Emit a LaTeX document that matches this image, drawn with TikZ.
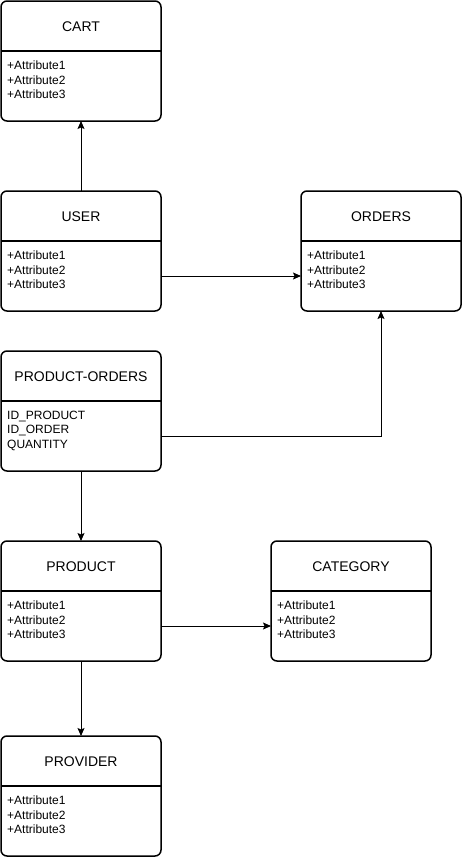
\documentclass[tikz,border=0pt]{standalone}
\usepackage{fontspec}
\setmainfont{Liberation Sans}
\usetikzlibrary{arrows.meta}

\tikzset{
  entity/.style={draw, line width=1.5pt, rounded corners=6pt, minimum width=160pt, minimum height=120pt, inner sep=0pt, outer sep=0pt},
  entityname/.style={font=\fontsize{14}{17}\selectfont, inner sep=0pt},
  entityattr/.style={font=\fontsize{12}{14.4}\selectfont, align=left, inner sep=0pt, anchor=north west},
  link/.style={line width=0.9pt, -{Stealth[length=8pt,width=7pt,inset=1.5pt]}},
}

% box with name on top and attributes below
\newcommand{\umlentity}[4]{%
  \node[entity] (#1) at (#2) {};
  \draw[line width=1.5pt] ([yshift=-50pt]#1.north west) -- ([yshift=-50pt]#1.north east);
  \node[entityname] (#1-name) at ([yshift=-25.8pt]#1.north) {#3};
  \node[entityattr] (#1-attr) at ([xshift=6pt,yshift=-59.8pt]#1.north west) {#4};
  \coordinate (#1-in) at ([yshift=-25pt]#1.west);
  \coordinate (#1-out) at ([yshift=-25pt]#1.east);
}

\begin{document}
\begin{tikzpicture}[x=1pt, y=-1pt]
    \useasboundingbox (0,0) rectangle (462,857);

    % Entities
    \umlentity{cart}{81,61}{CART}{+Attribute1\\+Attribute2\\+Attribute3}
    \umlentity{user}{81,251}{USER}{+Attribute1\\+Attribute2\\+Attribute3}
    \umlentity{orders}{381,251}{ORDERS}{+Attribute1\\+Attribute2\\+Attribute3}
    \umlentity{prodorders}{81,411}{PRODUCT-ORDERS}{ID\_PRODUCT\\ID\_ORDER\\QUANTITY}
    \umlentity{product}{81,601}{PRODUCT}{+Attribute1\\+Attribute2\\+Attribute3}
    \umlentity{category}{351,601}{CATEGORY}{+Attribute1\\+Attribute2\\+Attribute3}
    \umlentity{provider}{81,796}{PROVIDER}{+Attribute1\\+Attribute2\\+Attribute3}

    % Links
    \draw[link] (user.north) -- (cart.south);
    \draw[link] (user-out) -- (orders-in);
    \draw[link] (prodorders-out) -| (orders.south);
    \draw[link] (prodorders.south) -- (product.north);
    \draw[link] (product-out) -- (category-in);
    \draw[link] (product.south) -- (provider.north);
\end{tikzpicture}
\end{document}
